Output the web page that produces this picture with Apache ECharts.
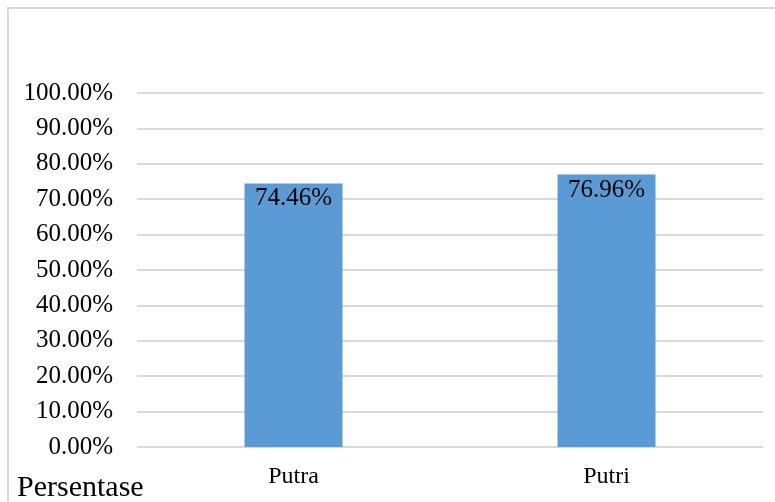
<!DOCTYPE html>
<html>
<head>
<meta charset="utf-8">
<script src="https://cdn.jsdelivr.net/npm/echarts@6/dist/echarts.min.js"></script>
<style>
  html, body { margin: 0; padding: 0; background: #fff; }
  #chart { width: 775px; height: 502px; }
</style>
</head>
<body>
<div id="chart"></div>
<script>
// data
const categories = ['Putra', 'Putri']
const values = [74.46, 76.96]
const yMax = 100
const yStep = 10

const serif = '"Liberation Serif", "Times New Roman", serif'

const chart = echarts.init(document.getElementById('chart'))

chart.setOption({
  animation: false,
  grid: { left: 137, right: 12, top: 93, bottom: 55 },
  graphic: [
    // outer frame (only top / left visible in the picture)
    {
      type: 'rect',
      shape: { x: 8, y: 8, width: 820, height: 560 },
      style: { fill: 'none', stroke: '#d9d9d9', lineWidth: 2 },
      silent: true
    },
    {
      type: 'text',
      style: {
        text: 'Persentase',
        x: 17, y: 503,
        verticalAlign: 'bottom',
        font: '30px ' + serif,
        fill: '#000'
      }
    }
  ],
  xAxis: {
    type: 'category',
    data: categories,
    axisLine: { show: false },
    axisTick: { show: false },
    axisLabel: { fontFamily: serif, fontSize: 24, color: '#000', margin: 18 }
  },
  yAxis: {
    type: 'value',
    min: 0,
    max: yMax,
    interval: yStep,
    axisLine: { show: false },
    axisTick: { show: false },
    splitLine: { lineStyle: { color: '#d9d9d9', width: 2 } },
    axisLabel: {
      fontFamily: serif, fontSize: 25, color: '#000', margin: 24,
      formatter: v => v.toFixed(2) + '%'
    }
  },
  series: [{
    type: 'bar',
    data: values,
    barWidth: 98,
    itemStyle: { color: '#5B9BD5' },
    label: {
      show: true,
      position: 'insideTop',
      distance: 3,
      fontFamily: serif,
      fontSize: 25,
      color: '#000',
      formatter: p => p.value.toFixed(2) + '%'
    }
  }]
})
</script>
</body>
</html>
